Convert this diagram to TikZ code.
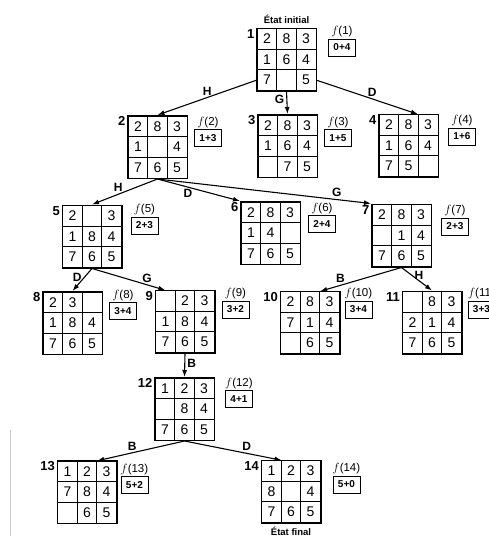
\documentclass[tikz,border=0pt]{standalone}
\usepackage{fontspec}
\setmainfont{Liberation Sans}
\usepackage{tikz}
\usetikzlibrary{arrows.meta,positioning,matrix}

\begin{document}
\begin{tikzpicture}[
  x=1pt,y=-1pt,
  puzzle/.style={matrix of nodes,draw,line width=1.5pt,inner sep=0pt,
    column sep=-0.7pt,row sep=-0.7pt,nodes in empty cells,
    nodes={draw,line width=0.7pt,minimum width=19.6pt,minimum height=20.6pt,
      inner sep=0pt,anchor=center,font=\fontsize{14}{14}\selectfont}},
  numlab/.style={anchor=north east,inner sep=1.5pt,font=\fontsize{13}{13}\selectfont\bfseries},
  fval/.style={draw,line width=0.9pt,minimum width=27pt,minimum height=17pt,inner sep=1pt,
    font=\fontsize{10}{10}\selectfont\bfseries},
  flab/.style={inner sep=1pt,font=\fontsize{11.5}{11.5}\selectfont},
  mv/.style={inner sep=2pt,font=\fontsize{12}{12}\selectfont\bfseries},
  etat/.style={inner sep=1pt,font=\fontsize{9.5}{9.5}\selectfont\bfseries},
  arr/.style={-{Latex[length=7pt,width=5pt]},line width=1.1pt}
]
  \useasboundingbox (0,0) rectangle (488,536);

  % level 0
  \matrix[puzzle] (n1) at (286.5,59.5) {2 & 8 & 3\\ 1 & 6 & 4\\ 7 & & 5\\};
  \node[numlab] (l1) at (n1.north west) {1};
  \node[fval,below right=11pt and 11pt of n1.north east,label={[flab]above:$f$(1)}] (f1) {0+4};
  \node[etat,above=3pt of n1] (init) {État initial};

  % level 1
  \matrix[puzzle] (n2) at (157.5,147) {2 & 8 & 3\\ 1 & & 4\\ 7 & 6 & 5\\};
  \node[numlab] (l2) at (n2.north west) {2};
  \node[fval,below right=14pt and 6pt of n2.north east,label={[flab]above:$f$(2)}] (f2) {1+3};

  \matrix[puzzle] (n3) at (287.5,146) {2 & 8 & 3\\ 1 & 6 & 4\\ & 7 & 5\\};
  \node[numlab] (l3) at (n3.north west) {3};
  \node[fval,below right=15pt and 6pt of n3.north east,label={[flab]above:$f$(3)}] (f3) {1+5};

  \matrix[puzzle] (n4) at (408.5,145.5) {2 & 8 & 3\\ 1 & 6 & 4\\ 7 & 5 & \\};
  \node[numlab] (l4) at (n4.north west) {4};
  \node[fval,below right=14pt and 9pt of n4.north east,label={[flab]above:$f$(4)}] (f4) {1+6};

  \draw[arr] (n1-3-1.west) -- node[mv,above] {H} (n2.north);
  \draw[arr] (n1.south) -- node[mv,left,pos=.35] {G} (n3.north);
  \draw[arr] (n1-3-3.east) -- node[mv,above,pos=.55] {D} (n4-1-3.north west);

  % level 2
  \matrix[puzzle] (n5) at (92,236.5) {2 & & 3\\ 1 & 8 & 4\\ 7 & 6 & 5\\};
  \node[numlab] (l5) at (n5.north west) {5};
  \node[fval,below right=12pt and 8pt of n5.north east,label={[flab]above:$f$(5)}] (f5) {2+3};

  \matrix[puzzle] (n6) at (270.5,233) {2 & 8 & 3\\ 1 & 4 & \\ 7 & 6 & 5\\};
  \node[numlab] (l6) at (n6.north west) {6};
  \node[fval,below right=14pt and 7pt of n6.north east,label={[flab]above:$f$(6)}] (f6) {2+4};

  \matrix[puzzle] (n7) at (401.5,235.5) {2 & 8 & 3\\ & 1 & 4\\ 7 & 6 & 5\\};
  \node[numlab] (l7) at (n7.north west) {7};
  \node[fval,below right=14pt and 9pt of n7.north east,label={[flab]above:$f$(7)}] (f7) {2+3};

  \draw[arr] (n2.south) -- node[mv,above,pos=.6] {H} (n5.north);
  \draw[arr] (n2.south) -- node[mv,below,pos=.37] {D} (n6.north west);
  \draw[arr] (n2.south) -- node[mv,above,pos=.84] {G} (n7.north west);

  % level 3
  \matrix[puzzle] (n8) at (72.5,323) {2 & 3 & \\ 1 & 8 & 4\\ 7 & 6 & 5\\};
  \node[numlab] (l8) at (n8.north west) {8};
  \node[fval,below right=11pt and 6pt of n8.north east,label={[flab]above:$f$(8)}] (f8) {3+4};

  \matrix[puzzle] (n9) at (185,321.5) {& 2 & 3\\ 1 & 8 & 4\\ 7 & 6 & 5\\};
  \node[numlab] (l9) at (n9.north west) {9};
  \node[fval,below right=11pt and 6pt of n9.north east,label={[flab]above:$f$(9)}] (f9) {3+2};

  \matrix[puzzle] (n10) at (310,322.5) {2 & 8 & 3\\ 7 & 1 & 4\\ & 6 & 5\\};
  \node[numlab] (l10) at (n10.north west) {10};
  \node[fval,below right=10pt and 4pt of n10.north east,label={[flab]above:$f$(10)}] (f10) {3+4};

  \matrix[puzzle] (n11) at (432,322.5) {& 8 & 3\\ 2 & 1 & 4\\ 7 & 6 & 5\\};
  \node[numlab] (l11) at (n11.north west) {11};
  \node[fval,below right=10pt and 5pt of n11.north east,label={[flab]above:$f$(11)}] (f11) {3+3};

  \draw[arr] (n5.south) -- node[mv,left,pos=.4] {D} (n8.north);
  \draw[arr] (n5.south) -- node[mv,above,pos=.75] {G} (n9-1-1.north);
  \draw[arr] (n7.south) -- node[mv,above,pos=.75] {B} (n10-1-2.north east);
  \draw[arr] (n7.south) -- node[mv,right,pos=.35] {H} (n11.north);

  % level 4
  \matrix[puzzle] (n12) at (184.5,409) {1 & 2 & 3\\ & 8 & 4\\ 7 & 6 & 5\\};
  \node[numlab] (l12) at (n12.north west) {12};
  \node[fval,below right=13pt and 10pt of n12.north east,label={[flab]above:$f$(12)}] (f12) {4+1};

  \draw[arr] (n9.south) -- node[mv,right,pos=.4] {B} (n12.north);

  % level 5
  \matrix[puzzle] (n13) at (87,492) {1 & 2 & 3\\ 7 & 8 & 4\\ & 6 & 5\\};
  \node[numlab] (l13) at (n13.north west) {13};
  \node[fval,below right=16pt and 3pt of n13.north east,label={[flab]above:$f$(13)}] (f13) {5+2};

  \matrix[puzzle] (n14) at (291,491.5) {1 & 2 & 3\\ 8 & & 4\\ 7 & 6 & 5\\};
  \node[numlab] (l14) at (n14.north west) {14};
  \node[fval,below right=16pt and 11pt of n14.north east,label={[flab]above:$f$(14)}] (f14) {5+0};
  \node[etat,below=2pt of n14] (final) {État final};

  \draw[arr] (n12.south) -- node[mv,above,pos=.6] {B} (n13-1-2.north east);
  \draw[arr] (n12.south) -- node[mv,above,pos=.64] {D} (n14-1-1.north east);

  % scan edge
  \draw[gray!45,line width=0.6pt] (10,430) -- (10,536);
\end{tikzpicture}
\end{document}
